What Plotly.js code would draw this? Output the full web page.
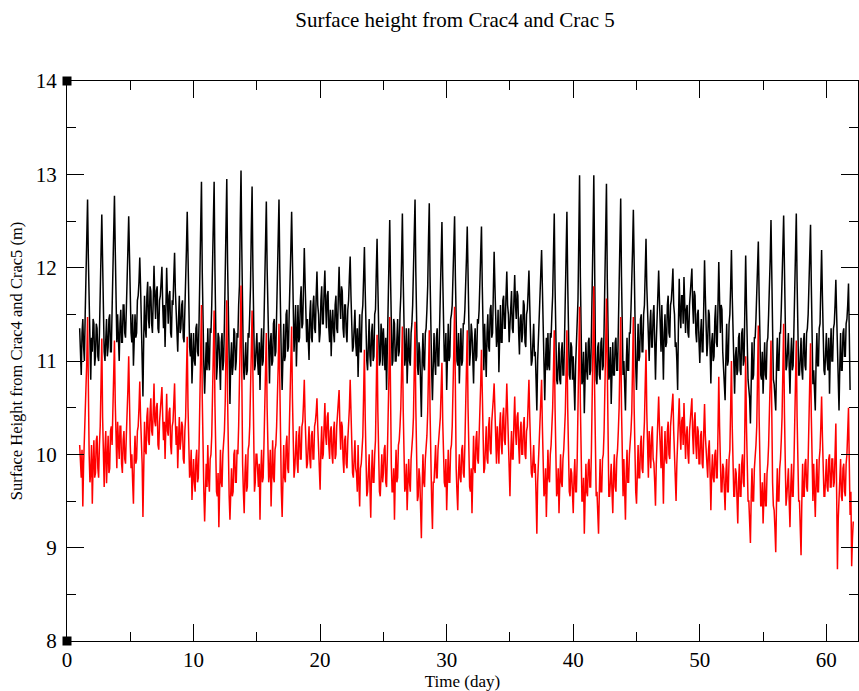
<!DOCTYPE html>
<html>
<head>
<meta charset="utf-8">
<script src="https://cdn.plot.ly/plotly-3.0.1.min.js"></script>
<style>html,body{margin:0;padding:0;background:#fff;}#chart{width:859px;height:691px;}</style>
</head>
<body>
<div id="chart"></div>
<script>
// sampling of both records (days): 16 samples per day from day 1
var startDay = 1.0;
var stepDay = 0.0625;

// Crac4 surface height (m), one row per day
var crac4 = [
11.35,11.05,10.85,11.3,11.45,11.15,11.0,11.5,11.9,12.35,12.73,12.1,11.7,11.2,10.8,11.25,
11.1,11.45,11.4,10.95,11.05,11.4,11.35,11.05,11.0,11.3,11.6,12.15,12.57,12.0,11.5,11.1,
11.0,11.3,11.45,11.05,11.15,11.45,11.5,11.1,11.1,11.55,11.9,12.4,12.77,12.2,11.6,11.2,
11.5,11.15,11.0,11.4,11.55,11.2,11.2,11.6,11.6,11.3,11.25,11.55,11.8,12.2,12.55,12.0,
11.6,11.3,11.2,11.5,10.95,11.35,11.5,11.25,11.3,11.65,11.7,11.85,12.11,11.8,11.5,11.15,
10.62,11.25,11.7,11.35,11.25,11.7,11.85,11.45,11.35,11.8,11.75,11.4,11.3,11.65,12.02,11.7,
11.45,11.75,11.8,11.35,11.3,11.65,11.7,11.85,12.01,11.6,11.35,11.6,11.15,11.55,12.0,11.65,
11.4,11.7,11.75,11.3,11.25,11.65,11.6,11.9,12.16,11.75,11.5,11.2,11.1,11.45,11.7,11.3,
11.35,11.6,11.65,11.25,11.2,11.55,11.8,12.2,12.6,11.9,11.45,11.15,11.05,11.3,10.76,11.1,
11.3,11.0,10.95,11.35,11.4,11.1,11.05,11.45,11.9,12.45,12.92,11.95,11.3,10.95,10.65,11.1,
11.2,10.9,11.35,11.0,10.9,11.35,11.3,11.6,11.95,12.5,12.92,12.0,11.2,10.8,10.95,11.3,
11.25,10.95,10.69,11.2,11.3,10.9,11.0,11.4,11.85,12.5,12.95,12.05,11.35,10.9,10.54,11.0,
11.2,10.85,10.95,11.35,11.3,10.9,11.0,11.3,11.25,11.6,11.8,12.5,13.04,12.2,11.4,10.95,
10.8,11.15,11.2,10.85,10.9,11.3,11.25,11.5,11.8,12.4,12.87,12.0,11.3,10.9,10.95,11.25,
11.3,11.0,10.85,11.2,10.69,11.1,11.35,10.95,11.0,11.4,11.9,12.3,12.71,12.0,11.4,11.0,
10.76,11.2,11.3,10.95,11.0,11.4,11.45,11.05,11.1,11.5,11.95,12.35,12.73,12.0,11.35,11.0,
10.69,11.1,11.4,11.0,11.05,11.5,11.55,11.1,11.15,11.55,11.8,12.2,12.6,12.0,11.5,11.1,
11.3,11.6,10.94,11.4,11.6,11.2,11.25,11.65,11.8,11.35,11.4,11.8,12.21,11.85,11.55,11.2,
11.45,11.2,11.01,11.5,11.65,11.25,11.2,11.6,11.7,11.35,11.3,11.7,11.96,11.6,11.5,11.2,
11.3,11.65,11.8,11.4,11.4,11.75,11.97,11.6,11.35,11.7,11.75,11.35,11.2,11.55,11.05,11.4,
11.55,11.3,11.2,11.6,11.7,11.35,11.3,11.7,12.01,11.65,11.45,11.8,11.75,11.35,11.25,11.6,
11.6,11.3,11.2,11.55,11.65,11.9,12.12,11.7,11.4,11.1,11.15,11.5,11.55,11.2,11.05,11.35,
10.83,11.2,11.5,11.1,11.1,11.5,11.6,11.9,12.22,11.75,11.3,11.0,10.9,11.3,11.45,11.05,
10.94,11.3,11.4,11.0,11.05,11.5,11.55,11.95,12.31,11.8,11.4,10.95,11.0,11.4,11.3,10.95,
11.35,11.05,10.9,11.25,10.69,11.15,11.6,12.05,12.51,11.9,11.35,10.95,11.0,11.45,11.4,11.0,
11.0,11.4,11.45,11.05,11.1,11.5,11.7,12.1,12.58,11.9,11.3,10.95,11.05,11.35,10.76,11.15,
11.35,11.0,10.95,11.3,11.4,11.6,11.9,12.3,12.73,11.95,11.2,10.95,10.85,11.2,11.1,10.75,
10.4,11.0,11.3,10.95,10.9,11.3,11.35,11.55,11.8,12.3,12.69,11.9,11.25,10.9,10.58,11.0,
11.3,11.0,10.85,11.25,11.35,10.95,10.95,11.35,11.7,12.1,12.49,11.9,11.4,11.0,11.0,11.3,
10.69,11.1,11.4,11.0,11.05,11.45,11.5,11.6,11.85,12.2,12.55,11.9,11.35,11.0,10.95,11.3,
10.76,11.15,11.35,10.95,11.0,11.4,11.4,11.55,11.75,12.1,12.44,11.85,11.3,10.95,11.1,11.4,
11.3,11.0,10.76,11.2,11.35,11.0,11.05,11.45,11.4,11.55,11.8,12.1,12.44,11.8,11.2,10.9,
11.4,11.1,10.83,11.3,11.5,11.15,11.1,11.55,11.6,11.25,11.3,11.75,12.17,11.8,11.45,11.15,
11.25,11.55,10.88,11.3,11.6,11.2,11.2,11.65,11.7,11.35,11.35,11.7,11.96,11.6,11.5,11.2,
11.4,11.7,11.75,11.35,11.3,11.65,11.92,11.6,11.45,11.75,11.7,11.3,11.07,11.45,11.5,11.2,
11.3,11.65,11.6,11.2,11.15,11.5,11.55,11.75,11.97,11.6,11.3,10.95,11.0,11.35,11.4,11.05,
11.1,10.8,10.47,11.0,11.3,11.5,11.7,11.95,12.19,11.7,11.2,10.85,10.58,11.0,11.25,10.9,
11.3,10.95,10.9,11.3,11.25,11.5,11.7,12.15,12.58,11.8,11.1,10.8,10.75,11.15,11.2,10.8,
10.75,11.1,11.2,10.85,10.85,11.25,11.6,12.1,12.6,11.85,11.2,10.85,10.8,11.2,11.15,10.8,
11.05,10.75,10.47,10.95,11.2,11.4,11.65,12.3,12.99,11.9,11.1,10.75,10.8,11.1,10.44,10.85,
11.2,10.9,10.8,11.2,11.25,10.85,10.9,11.3,11.7,12.35,12.99,11.9,11.15,10.8,10.75,11.15,
11.2,10.85,10.8,11.2,11.25,10.9,10.95,11.35,11.8,12.35,12.9,11.9,11.1,10.8,10.85,11.15,
10.54,10.95,11.2,10.85,10.85,11.2,11.25,10.9,10.9,11.35,11.75,12.3,12.74,11.9,11.2,10.85,
11.0,10.75,10.47,10.95,11.25,10.9,10.9,11.3,11.3,11.55,11.8,12.2,12.62,11.9,11.3,10.95,
10.69,11.1,11.4,11.0,11.05,11.45,11.5,11.1,11.1,11.5,11.6,11.95,12.31,11.8,11.45,11.1,
11.0,11.4,11.55,11.15,11.15,11.5,11.6,11.2,10.8,11.2,11.45,11.7,11.97,11.65,11.4,11.1,
11.6,11.2,10.8,11.3,11.5,11.15,11.2,11.6,11.7,11.3,11.25,11.6,11.65,11.8,11.99,11.6,
11.5,11.15,11.2,11.0,10.69,11.4,11.88,11.5,11.35,11.7,11.7,11.4,11.9,11.6,11.3,11.55,
11.6,11.3,11.25,11.6,11.75,11.85,11.99,11.6,11.4,11.75,11.7,11.3,11.2,11.5,11.55,11.2,
10.98,11.3,11.45,11.1,11.1,11.6,12.08,11.7,11.35,11.05,11.2,11.55,11.5,11.15,10.76,11.2,
11.3,11.0,11.05,11.45,11.6,11.2,11.15,11.6,12.06,11.65,11.3,11.6,11.55,11.1,10.9,10.8,
10.58,11.05,11.4,10.95,11.0,11.4,11.5,11.8,12.19,11.7,11.2,10.85,10.65,11.05,11.15,10.85,
10.9,11.25,11.3,10.9,10.85,11.3,11.35,10.95,11.0,11.6,12.13,11.6,11.05,10.8,10.7,10.6,
10.33,10.9,11.2,10.8,10.85,11.25,11.25,11.45,11.7,12.0,12.28,11.7,11.1,10.85,10.8,11.1,
10.65,11.0,11.2,10.85,10.8,11.2,11.25,11.5,11.75,12.1,12.51,11.8,11.05,10.8,10.75,10.6,
10.47,10.95,11.25,10.9,10.9,11.3,11.3,11.55,11.8,12.2,12.56,11.85,11.2,10.9,10.95,11.25,
11.3,10.95,10.65,11.05,11.25,10.9,10.95,11.35,11.75,12.15,12.58,11.85,11.15,10.85,10.85,11.2,
11.25,10.9,10.8,11.2,11.3,10.95,10.9,11.3,11.35,11.5,11.75,12.1,12.46,11.8,11.1,10.75,
10.9,10.75,10.47,11.0,11.3,10.95,10.95,11.35,11.4,11.8,12.19,11.7,11.25,10.9,10.85,11.2,
11.3,11.0,10.9,11.25,10.65,11.1,11.35,11.0,11.0,11.35,11.4,11.6,11.87,11.5,11.1,10.8,
10.47,10.95,11.3,10.9,10.9,11.3,11.35,11.05,11.05,11.4,11.45,11.6,11.83,11.3,10.69
];

// Crac5 surface height (m), one row per day, plus trailing samples after day 62
var crac5 = [
10.1,9.85,9.75,10.05,9.44,9.9,10.15,10.3,10.6,11.0,11.47,10.6,10.0,9.7,9.8,10.1,
9.47,9.9,10.15,9.75,9.8,10.15,10.2,9.85,9.75,10.1,10.3,10.75,11.24,10.4,9.9,9.65,
10.05,10.25,9.69,10.0,10.2,9.8,9.85,10.25,10.3,10.1,10.5,10.9,11.22,10.55,10.1,9.85,
10.35,10.0,9.95,10.3,10.3,9.9,9.8,10.15,10.25,9.95,9.9,10.2,10.4,10.7,11.05,10.45,
10.1,9.85,10.0,9.7,9.47,9.95,10.2,9.9,9.95,10.25,10.3,10.5,10.78,10.4,10.15,9.9,
9.33,9.9,10.35,10.05,10.0,10.4,10.5,10.15,10.1,10.45,10.6,10.25,10.2,10.45,10.76,10.35,
10.3,10.5,10.55,10.1,10.05,10.35,10.45,10.6,10.72,10.4,10.15,10.35,9.95,10.3,10.65,10.25,
10.2,10.45,10.5,10.1,10.0,10.3,10.35,10.55,10.76,10.35,10.1,10.3,9.85,10.15,10.4,10.05,
10.15,10.35,10.3,9.95,9.9,10.25,10.4,10.85,11.26,10.5,10.0,9.75,9.8,10.05,9.51,9.85,
9.95,9.7,9.6,9.95,10.05,9.7,9.75,10.1,10.5,11.05,11.6,10.6,9.9,9.6,9.28,9.7,
9.9,9.65,10.1,9.75,9.6,9.95,10.0,10.2,10.6,11.1,11.54,10.55,9.85,9.6,9.55,9.8,
9.22,9.7,10.05,9.7,9.65,10.0,10.1,10.25,10.55,11.1,11.65,10.6,9.8,9.55,9.3,9.75,
9.85,9.55,9.6,10.0,10.05,9.7,9.7,10.05,10.0,10.3,10.65,11.25,11.81,10.7,9.9,9.6,
9.37,9.8,10.0,9.6,9.65,10.05,10.1,10.3,10.6,11.1,11.54,10.6,9.9,9.6,9.7,10.0,
10.0,9.75,9.65,9.9,9.3,9.8,10.05,9.7,9.75,10.1,10.5,10.9,11.3,10.5,9.95,9.7,
9.8,10.05,9.44,9.85,10.15,9.75,9.7,10.05,10.1,10.3,10.55,10.95,11.4,10.55,9.85,9.6,
9.33,9.8,10.1,9.75,9.7,10.1,10.2,9.85,9.8,10.25,10.6,10.95,11.37,10.6,10.0,9.75,
9.85,10.2,10.25,9.9,9.8,10.2,10.3,9.95,9.95,10.3,10.35,10.55,10.8,10.4,10.1,9.85,
9.9,10.25,10.3,9.95,9.85,10.2,10.25,9.95,9.95,10.3,10.35,10.45,10.6,10.3,10.05,9.8,
9.62,10.05,10.3,9.95,10.0,10.3,10.55,10.2,10.1,10.4,10.45,10.1,9.95,10.25,10.3,10.0,
9.9,10.25,10.35,9.95,10.0,10.3,10.4,10.55,10.69,10.3,10.05,10.35,10.3,9.95,9.8,10.15,
10.2,9.9,9.85,10.15,10.3,10.5,10.8,10.35,10.0,9.8,9.75,10.1,10.15,9.85,9.8,9.6,
10.1,9.7,9.44,9.85,9.9,10.05,10.2,10.65,11.12,10.4,9.85,9.55,9.6,9.9,10.0,9.65,
9.32,9.8,10.05,9.7,9.7,10.0,10.15,10.7,11.28,10.45,9.9,9.6,9.55,9.9,10.0,9.7,
9.8,10.05,10.1,9.7,9.65,10.0,10.3,10.85,11.47,10.5,9.9,9.6,9.6,9.85,9.3,9.75,
10.05,9.7,9.75,10.1,10.15,10.3,10.5,10.9,11.37,10.5,9.95,9.6,9.65,9.9,9.4,9.8,
9.95,9.7,9.6,9.95,10.05,10.2,10.4,10.9,11.42,10.5,9.85,9.5,9.55,9.85,9.75,9.45,
9.1,9.65,10.0,9.7,9.65,9.95,10.05,10.2,10.45,10.85,11.33,10.45,9.8,9.5,9.2,9.7,
9.7,9.95,10.1,9.75,9.75,10.05,10.15,10.25,10.4,10.7,10.98,10.35,9.95,9.7,9.65,9.95,
9.4,9.8,10.05,9.7,9.7,10.05,10.1,10.3,10.6,11.1,11.58,10.6,9.85,9.6,9.4,9.8,
10.0,9.75,9.7,10.05,10.1,9.8,9.75,10.1,10.5,10.9,11.33,10.5,9.9,9.65,9.6,9.85,
9.37,9.85,10.2,9.85,9.8,10.15,10.25,9.95,9.9,10.2,10.4,10.75,11.12,10.5,10.05,9.8,
9.85,10.2,10.3,9.95,9.9,10.3,10.4,10.05,10.0,10.35,10.45,10.6,10.76,10.4,10.15,9.9,
10.3,10.0,9.9,10.3,10.45,10.1,10.0,10.4,10.5,10.15,10.1,10.45,10.76,10.45,10.2,9.8,
9.55,10.0,10.25,9.95,9.95,10.35,10.62,10.25,10.1,10.4,10.45,10.1,9.9,10.25,10.35,10.0,
10.0,10.3,10.4,10.0,9.95,10.25,10.3,10.55,10.8,10.4,10.05,9.8,9.75,10.05,10.1,9.8,
9.9,9.55,9.15,9.7,9.95,10.1,10.3,10.55,10.8,10.3,9.85,9.55,9.6,9.85,9.33,9.7,
10.05,9.75,9.7,10.0,10.1,10.3,10.5,10.9,11.33,10.5,9.85,9.55,9.6,9.85,9.37,9.75,
10.0,9.7,9.65,9.95,10.05,10.25,10.45,10.9,11.33,10.5,9.9,9.6,9.55,9.85,9.8,9.55,
9.37,9.75,9.95,9.6,9.6,9.95,10.4,11.0,11.58,10.55,9.8,9.5,9.5,9.75,9.15,9.6,
9.9,9.6,9.55,9.9,9.95,9.65,9.65,10.05,10.55,11.2,11.8,10.7,9.85,9.55,9.6,9.35,
9.15,9.6,9.95,9.6,9.6,9.95,10.0,10.25,10.6,11.15,11.67,10.65,9.85,9.55,9.55,9.75,
9.9,9.6,9.37,9.8,10.0,9.65,9.6,9.95,10.05,10.25,10.5,11.0,11.47,10.5,9.8,9.55,
9.95,9.6,9.3,9.8,10.05,9.7,9.7,10.0,10.1,10.25,10.45,10.95,11.47,10.5,9.85,9.6,
9.47,9.85,10.1,9.75,9.75,10.1,10.2,9.85,9.8,10.15,10.35,10.75,11.12,10.45,10.0,9.75,
10.25,9.95,9.85,10.2,10.3,9.95,9.9,9.7,9.45,9.9,10.2,10.4,10.62,10.3,10.1,9.85,
10.3,9.9,9.47,9.95,10.25,9.95,9.9,10.25,10.35,10.0,9.95,10.3,10.4,10.5,10.65,10.25,
10.0,9.75,9.5,9.9,10.2,10.4,10.6,10.25,10.05,10.35,10.4,10.1,10.55,10.25,9.95,10.2,
10.3,10.0,9.9,10.25,10.35,10.45,10.6,10.2,10.0,10.35,10.45,10.1,9.95,10.3,10.25,9.9,
9.9,10.2,10.25,9.9,9.85,10.25,10.54,10.2,10.0,9.8,9.75,10.05,10.15,9.8,9.4,9.8,
10.0,9.75,9.7,10.0,10.05,9.75,9.75,10.25,10.83,10.3,9.9,9.6,9.6,9.9,9.85,9.55,
9.4,9.8,9.95,9.6,9.6,9.95,10.05,10.5,11.0,10.3,9.85,9.55,9.55,9.85,9.8,9.5,
9.26,9.7,9.9,9.55,9.55,9.9,10.0,9.7,9.65,10.35,11.05,10.3,9.8,9.5,9.5,9.3,
9.05,9.55,9.85,9.5,9.5,9.85,9.95,10.1,10.3,10.85,11.38,10.4,9.75,9.45,9.45,9.7,
9.26,9.6,9.8,9.45,9.45,9.8,9.9,10.1,10.35,10.8,11.22,10.35,9.7,9.45,9.4,9.2,
8.95,9.5,9.85,9.5,9.5,9.85,9.95,10.15,10.4,10.9,11.4,10.45,9.75,9.45,9.55,9.8,
9.85,9.5,9.22,9.65,9.9,9.55,9.55,9.9,10.3,10.75,11.22,10.4,9.8,9.5,9.5,9.2,
8.92,9.5,9.9,9.55,9.55,9.9,9.95,9.65,9.6,9.95,10.35,10.8,11.19,10.4,9.8,9.5,
9.9,9.6,9.33,9.7,9.95,9.6,9.6,9.95,10.05,10.3,10.62,10.2,9.85,9.55,9.55,9.8,
9.95,9.65,9.6,9.95,10.0,9.65,9.65,9.95,9.95,9.65,9.7,10.0,10.33,9.6,8.77,9.3,
9.6,9.85,9.95,9.55,9.5,9.85,9.9,9.6,9.55,9.9,10.0,10.25,10.5,9.9,9.35,9.6,
8.8,9.1,9.28
];

// corner markers drawn by the original plot
var cornerX = [0, 0];
var cornerY = [14, 8];

var xTickVals = [0, 10, 20, 30, 40, 50, 60];
var yTickVals = [8, 9, 10, 11, 12, 13, 14];

function times(n) {
  var t = [];
  for (var i = 0; i < n; i++) t.push(startDay + i * stepDay);
  return t;
}

var traces = [
  {x: times(crac4.length), y: crac4, type: 'scatter', mode: 'lines', name: 'Crac4',
   line: {color: '#000000', width: 1.5}},
  {x: times(crac5.length), y: crac5, type: 'scatter', mode: 'lines', name: 'Crac5',
   line: {color: '#ff0000', width: 1.5}},
  {x: cornerX, y: cornerY, type: 'scatter', mode: 'markers', name: 'corner',
   marker: {symbol: 'square', size: 9, color: '#000000'}, cliponaxis: false}
];

var serif = 'Liberation Serif, Times New Roman, serif';

var layout = {
  width: 859, height: 691,
  margin: {l: 67, r: 1, t: 81, b: 50},
  paper_bgcolor: '#ffffff', plot_bgcolor: '#ffffff',
  showlegend: false,
  font: {family: serif, color: '#000000'},
  title: {text: 'Surface height from Crac4 and Crac 5', font: {family: serif, size: 21, color: '#000'},
          x: 0.4905, xref: 'paper', xanchor: 'center', y: 0.971, yref: 'container', yanchor: 'middle'},
  xaxis: {
    range: [0, 62.5], tickmode: 'array', tickvals: xTickVals, ticktext: xTickVals.map(String),
    ticks: 'inside', ticklen: 17, tickwidth: 1, tickcolor: '#000',
    minor: {ticks: 'inside', ticklen: 9, dtick: 5, tick0: 0, tickcolor: '#000', tickwidth: 1},
    showline: true, linecolor: '#000', linewidth: 1, mirror: 'allticks',
    showgrid: false, zeroline: false,
    tickfont: {family: serif, size: 21, color: '#000'},
    ticklabelstandoff: 0,
    title: {text: 'Time (day)', font: {family: serif, size: 17, color: '#000'}, standoff: 4}
  },
  yaxis: {
    range: [8, 14], tickmode: 'array', tickvals: yTickVals, ticktext: yTickVals.map(String),
    ticks: 'inside', ticklen: 17, tickwidth: 1, tickcolor: '#000',
    minor: {ticks: 'inside', ticklen: 9, dtick: 0.5, tick0: 8, tickcolor: '#000', tickwidth: 1},
    showline: true, linecolor: '#000', linewidth: 1, mirror: 'allticks',
    showgrid: false, zeroline: false,
    tickfont: {family: serif, size: 21, color: '#000'},
    ticklabelstandoff: 5,
    title: {text: 'Surface Height from Crac4 and Crac5 (m)', font: {family: serif, size: 16.5, color: '#000'}, standoff: 9}
  }
};

Plotly.newPlot('chart', traces, layout, {displayModeBar: false, staticPlot: true});
</script>
</body>
</html>
